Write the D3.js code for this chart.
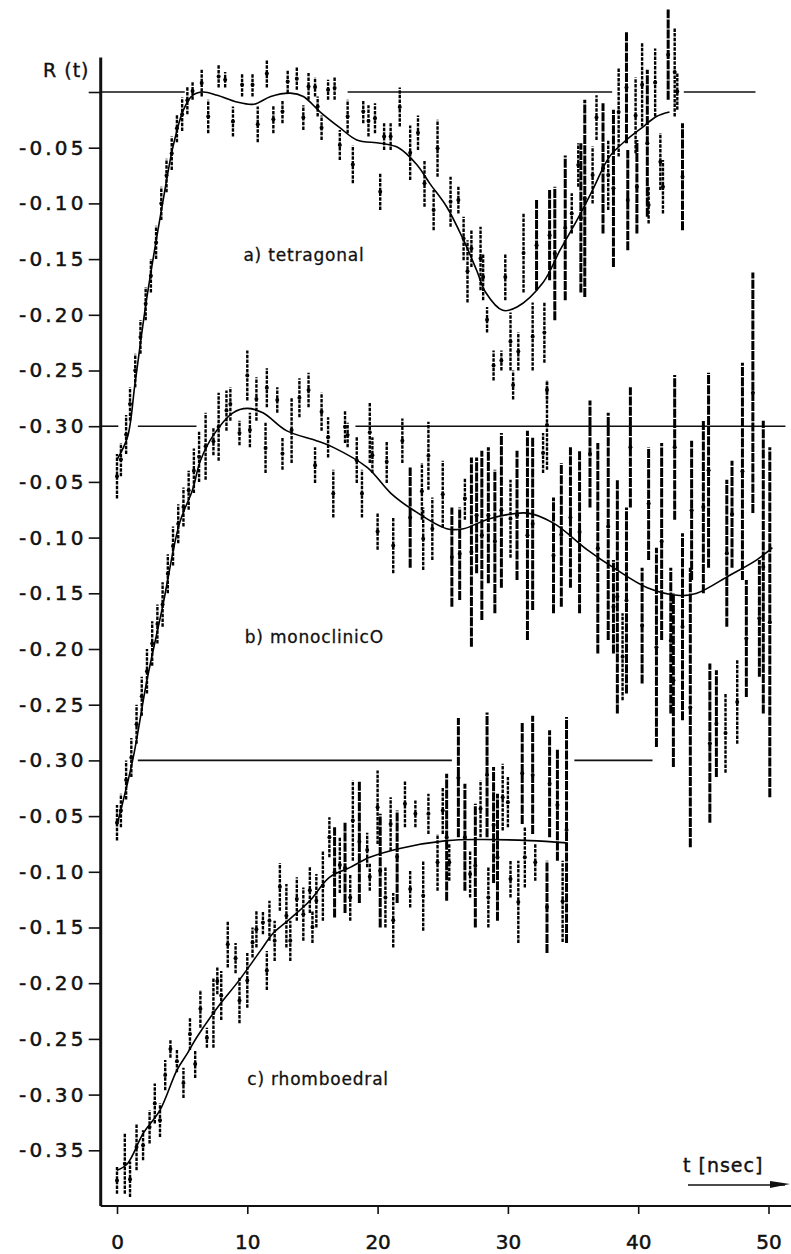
<!DOCTYPE html>
<html>
<head>
<meta charset="utf-8">
<script src="https://cdnjs.cloudflare.com/ajax/libs/d3/7.8.5/d3.min.js"></script>
<style>
body{margin:0;background:#fff;}
svg{display:block;}
</style>
</head>
<body>
<div id="container"></div>
<script>
// R(t), t in nsec. each panel has its own zero, stacked 0.30 apart
var panelNames=['a) tetragonal','b) monoclinicO','c) rhomboedral'];
var panelOffsets=[0,-0.30,-0.60];
var xTicks=[0,10,20,30,40,50];
var yTickLabels=['-0.05','-0.10','-0.15','-0.20','-0.25','-0.30',
                 '-0.05','-0.10','-0.15','-0.20','-0.25','-0.30',
                 '-0.05','-0.10','-0.15','-0.20','-0.25','-0.30','-0.35'];

// [t, low, high] error bars
var tetraBars=[[0.0,-0.365,-0.325],[0.3,-0.345,-0.315],[0.7,-0.325,-0.290],[1.0,-0.295,-0.265],[1.4,-0.265,-0.235],
[1.8,-0.235,-0.205],[2.2,-0.205,-0.175],[2.6,-0.180,-0.150],[3.0,-0.150,-0.120],[3.4,-0.115,-0.085],[3.8,-0.090,-0.060],
[4.2,-0.070,-0.040],[4.6,-0.045,-0.020],[5.0,-0.035,-0.005],[5.4,-0.020,0.005],[5.8,-0.007,0.009],[6.5,-0.004,0.020],
[7.0,-0.037,-0.007],[7.8,0.004,0.024],[8.3,0.004,0.018],[8.9,-0.040,-0.013],[9.6,-0.004,0.017],[10.4,-0.004,0.017],
[10.8,-0.045,-0.013],[11.5,0.004,0.029],[12.0,-0.037,-0.012],[12.7,-0.028,-0.007],[13.1,-0.001,0.020],[13.8,0.002,0.022],
[14.3,-0.034,-0.012],[14.7,-0.007,0.017],[15.2,-0.004,0.013],[15.4,-0.022,-0.004],[15.7,-0.043,-0.021],[16.2,-0.007,0.011],
[16.7,-0.007,0.014],[17.1,-0.061,-0.034],[17.7,-0.037,-0.007],[18.1,-0.082,-0.048],[18.9,-0.028,-0.007],[19.3,-0.040,-0.012],
[19.8,-0.037,-0.010],[20.2,-0.106,-0.073],[20.5,-0.052,-0.028],[21.0,-0.052,-0.028],[21.7,-0.031,0.004],[22.5,-0.079,-0.030],
[23.1,-0.052,-0.021],[23.6,-0.103,-0.061],[24.3,-0.124,-0.088],[24.6,-0.076,-0.025],[25.6,-0.121,-0.076],[26.2,-0.109,-0.085],
[26.6,-0.151,-0.112],[26.9,-0.189,-0.133],[27.2,-0.157,-0.124],[27.9,-0.178,-0.121],[28.1,-0.187,-0.145],[28.4,-0.216,-0.193],
[28.9,-0.259,-0.232],[29.5,-0.250,-0.232],[29.8,-0.187,-0.145],[30.2,-0.250,-0.198],[30.4,-0.276,-0.250],[30.8,-0.250,-0.216],
[31.2,-0.180,-0.109],[31.9,-0.250,-0.189],[32.2,-0.178,-0.097],[32.8,-0.243,-0.189],[33.0,-0.276,-0.259],[33.2,-0.169,-0.088],
[33.6,-0.205,-0.085],[34.4,-0.187,-0.057],[34.9,-0.127,-0.091],[35.4,-0.085,-0.046],[35.6,-0.180,-0.046],[35.9,-0.184,-0.007],
[36.5,-0.100,-0.049],[36.8,-0.043,-0.003],[37.3,-0.127,-0.010],[37.7,-0.106,-0.043],[38.1,-0.157,-0.016],[38.5,-0.058,0.022],
[39.1,-0.046,0.054],[39.2,-0.142,-0.052],[39.8,-0.055,0.013],[39.9,-0.127,-0.043],[40.3,-0.031,0.044],[40.7,-0.112,0.020],
[40.8,-0.118,-0.085],[41.3,-0.022,0.039],[41.7,-0.088,-0.037],[41.9,-0.109,-0.061],[42.3,-0.007,0.074],[42.8,-0.022,0.058],
[43.0,-0.016,0.017],[43.4,-0.124,-0.028]];
var tetraFit=[[0,-0.33],[0.8,-0.31],[1.4,-0.26],[2.3,-0.184],[3.5,-0.10],[4.3,-0.049],[5.1,-0.016],[5.8,-0.003],[6.6,0],
[7.7,-0.003],[9.2,-0.009],[10.5,-0.011],[11.8,-0.004],[13.3,-0.001],[14.3,-0.004],[15.6,-0.018],[17.1,-0.032],[18.4,-0.043],
[20.2,-0.046],[21.6,-0.050],[23.0,-0.065],[24.0,-0.082],[25.3,-0.103],[26.6,-0.133],[27.6,-0.160],[28.3,-0.180],[29.6,-0.196],[30.7,-0.193],
[32.7,-0.171],[34.0,-0.142],[35.3,-0.115],[36.5,-0.088],[37.8,-0.058],[39.1,-0.043],[40.4,-0.031],[41.4,-0.022],[42.4,-0.018]];

var monoBars=[[0.0,-0.372,-0.340],[0.3,-0.360,-0.330],[0.7,-0.335,-0.300],[1.1,-0.315,-0.280],[1.5,-0.285,-0.250],
[1.9,-0.260,-0.225],[2.3,-0.240,-0.200],[2.7,-0.215,-0.175],[3.1,-0.195,-0.160],[3.5,-0.180,-0.140],[3.9,-0.150,-0.115],
[4.3,-0.125,-0.090],[4.7,-0.105,-0.070],[5.1,-0.090,-0.055],[5.5,-0.075,-0.040],[5.9,-0.060,-0.020],[6.3,-0.050,-0.005],
[6.8,-0.048,0.012],[7.4,-0.026,-0.001],[7.8,-0.031,0.030],[8.4,-0.004,0.032],[8.7,0.005,0.035],[9.4,-0.017,0.005],
[10.0,0.023,0.068],[10.2,-0.019,0.012],[10.7,0.005,0.044],[11.4,-0.042,0.003],[11.5,0.017,0.052],[12.3,0.012,0.035],
[12.7,-0.039,-0.010],[13.4,-0.033,0.026],[14.0,0.008,0.043],[14.7,0.017,0.048],[15.2,-0.051,-0.019],[15.7,-0.004,0.030],
[16.2,-0.028,0.008],[16.6,-0.082,-0.039],[17.5,-0.015,0.014],[17.7,-0.019,0.003],[18.4,-0.051,-0.010],[18.8,-0.082,-0.039],
[19.4,-0.033,0.022],[19.6,-0.042,-0.010],[20.0,-0.111,-0.078],[20.7,-0.051,-0.013],[21.2,-0.132,-0.082],[21.9,-0.033,0.007],
[22.5,-0.127,-0.037],[23.4,-0.084,-0.033],[23.5,-0.129,-0.073],[23.9,-0.057,0.004],[24.2,-0.120,-0.064],[25.0,-0.091,-0.031],
[25.7,-0.162,-0.073],[26.3,-0.156,-0.073],[26.7,-0.084,-0.046],[27.2,-0.198,-0.028],[27.6,-0.132,-0.028],[28.0,-0.174,-0.022],
[28.5,-0.141,-0.019],[29.0,-0.168,-0.039],[29.5,-0.145,-0.006],[30.2,-0.118,-0.048],[30.7,-0.138,-0.022],[31.5,-0.192,-0.004],
[31.9,-0.165,-0.010],[32.7,-0.042,-0.006],[33.0,-0.039,0.041],[33.5,-0.168,-0.064],[34.1,-0.162,-0.033],[34.8,-0.145,-0.019],
[35.5,-0.168,-0.022],[36.3,-0.073,0.023],[36.9,-0.204,-0.015],[37.7,-0.192,0.012],[38.1,-0.204,-0.120],[38.4,-0.258,-0.048],
[38.8,-0.246,-0.168],[39.1,-0.240,-0.073],[39.4,-0.073,0.035],[40.3,-0.231,-0.127],[40.8,-0.120,-0.019],[41.4,-0.288,-0.109],
[41.8,-0.192,-0.015],[42.5,-0.258,-0.127],[42.7,-0.306,-0.150],[42.8,-0.084,0.046],[43.4,-0.264,-0.096],[44.0,-0.378,-0.127],
[44.1,-0.138,-0.013],[45.0,-0.150,0.005],[45.4,-0.127,0.048],[45.5,-0.356,-0.213],[46.0,-0.315,-0.219],[46.7,-0.311,-0.240],
[46.8,-0.180,-0.048],[47.2,-0.127,-0.031],[47.6,-0.285,-0.210],[48.0,-0.138,0.057],[48.3,-0.243,-0.138],[48.8,-0.078,0.138],
[49.3,-0.225,-0.120],[49.6,-0.258,0.005],[50.1,-0.333,-0.019]];
var monoFit=[[0,-0.358],[1.2,-0.30],[2.3,-0.228],[3.5,-0.162],[4.8,-0.087],[5.8,-0.057],[6.4,-0.031],[7.4,-0.008],[8.9,0.012],
[10.0,0.016],[11.2,0.012],[13.0,-0.004],[15.3,-0.013],[16.6,-0.019],[19.2,-0.037],[21.0,-0.060],[22.7,-0.075],[25.3,-0.092],
[26.6,-0.092],[28.6,-0.083],[31.5,-0.078],[33.5,-0.087],[36.1,-0.111],[38.1,-0.127],[40.7,-0.145],[43.2,-0.152],[44.5,-0.150],
[47.0,-0.134],[49.1,-0.120],[50.3,-0.109]];

var rhomboBars=[[0.0,-0.389,-0.365],[0.6,-0.389,-0.335],[1.0,-0.392,-0.360],[1.5,-0.368,-0.326],[2.0,-0.359,-0.332],
[2.5,-0.344,-0.314],[2.9,-0.326,-0.290],[3.3,-0.338,-0.308],[3.7,-0.296,-0.269],[4.1,-0.267,-0.251],[4.6,-0.280,-0.260],
[5.1,-0.303,-0.276],[5.6,-0.260,-0.231],[6.0,-0.285,-0.260],[6.4,-0.240,-0.206],[6.9,-0.258,-0.240],[7.4,-0.258,-0.195],
[7.7,-0.210,-0.186],[8.0,-0.233,-0.189],[8.5,-0.186,-0.144],[9.1,-0.191,-0.164],[9.4,-0.236,-0.195],[10.0,-0.222,-0.173],
[10.4,-0.177,-0.150],[10.7,-0.168,-0.135],[11.2,-0.156,-0.135],[11.5,-0.206,-0.171],[11.7,-0.162,-0.126],[12.1,-0.180,-0.144],
[12.5,-0.135,-0.092],[13.0,-0.168,-0.111],[13.3,-0.180,-0.144],[13.8,-0.144,-0.105],[14.3,-0.162,-0.114],[14.8,-0.137,-0.096],
[15.0,-0.164,-0.135],[15.3,-0.150,-0.102],[15.8,-0.144,-0.081],[16.3,-0.087,-0.051],[16.7,-0.141,-0.060],[17.1,-0.119,-0.069],
[17.5,-0.137,-0.056],[17.9,-0.144,-0.102],[18.1,-0.090,-0.018],[18.6,-0.128,-0.018],[19.2,-0.096,-0.065],[19.4,-0.117,-0.092],
[20.0,-0.075,-0.009],[20.2,-0.150,-0.048],[20.6,-0.150,-0.096],[21.0,-0.081,-0.033],[21.2,-0.168,-0.119],[21.5,-0.128,-0.045],
[22.1,-0.060,-0.018],[22.5,-0.132,-0.099],[22.9,-0.060,-0.036],[23.5,-0.153,-0.090],[23.9,-0.066,-0.030],[24.6,-0.117,-0.066],
[25.0,-0.066,-0.024],[25.3,-0.126,-0.012],[25.5,-0.108,-0.075],[26.2,-0.069,0.038],[26.7,-0.117,-0.021],[27.1,-0.123,-0.081],
[27.5,-0.150,-0.039],[27.9,-0.069,-0.018],[28.4,-0.069,0.043],[28.5,-0.150,-0.096],[28.9,-0.110,-0.006],[29.2,-0.144,-0.030],
[29.6,-0.063,-0.003],[30.0,-0.060,-0.015],[30.2,-0.123,-0.090],[30.8,-0.164,-0.090],[31.1,-0.057,0.034],[31.3,-0.114,-0.060],
[31.9,-0.066,0.040],[32.1,-0.108,-0.075],[33.0,-0.173,-0.090],[33.2,-0.069,0.027],[33.8,-0.090,0.010],[34.2,-0.163,-0.090],
[34.5,-0.164,0.039]];
var rhomboFit=[[0,-0.368],[0.8,-0.362],[2.0,-0.335],[3.3,-0.314],[4.6,-0.278],[5.4,-0.263],[6.1,-0.249],[7.7,-0.222],
[9.4,-0.197],[11.0,-0.171],[12.0,-0.155],[13.3,-0.142],[14.8,-0.126],[16.3,-0.105],[17.9,-0.096],[19.4,-0.087],[21.7,-0.079],
[25.3,-0.072],[27.9,-0.071],[31.7,-0.072],[34.5,-0.074]];

// visible pieces of each zero line (t ranges), the rest is hidden by the data
var zeroSegs=[[[-1.25,5.2],[17.7,38.0],[43.5,49.0]],
              [[-1.25,0.1],[1.6,6.1],[18.3,51.3]],
              [[1.6,25.7],[35.1,41.1]]];

var width=791, height=1254;
var svg=d3.select('#container').append('svg')
  .attr('width',width).attr('height',height)
  .style('background-color','white');

var x=d3.scaleLinear().domain([0,50]).range([117,768.5]);
var y=d3.scaleLinear().domain([0,-1]).range([92,1206]);
var axisT=-1.25;
var font="'DejaVu Sans',sans-serif";

var panels=[{bars:tetraBars,fit:tetraFit},{bars:monoBars,fit:monoFit},{bars:rhomboBars,fit:rhomboFit}];

// zero lines
panels.forEach(function(p,i){
  svg.append('g').selectAll('line').data(zeroSegs[i]).enter().append('line')
    .attr('x1',d=>x(d[0])).attr('x2',d=>x(d[1]))
    .attr('y1',y(panelOffsets[i])).attr('y2',y(panelOffsets[i]))
    .attr('stroke','#111').attr('stroke-width',1.6);
});

// error bars, long ones come out heavier on the scan
panels.forEach(function(p,i){
  var off=panelOffsets[i];
  var g=svg.append('g').attr('class','bars');
  g.selectAll('line').data(p.bars).enter().append('line')
    .attr('x1',d=>x(d[0])).attr('x2',d=>x(d[0]))
    .attr('y1',d=>y(d[1]+off)).attr('y2',d=>y(d[2]+off))
    .attr('stroke','#000')
    .attr('stroke-width',d=>(d[2]-d[1])>0.08?3:2.4)
    .attr('stroke-dasharray',d=>(d[2]-d[1])>0.08?'9 1.2':'3.5 1.2');
  g.selectAll('circle').data(p.bars).enter().append('circle')
    .attr('cx',d=>x(d[0])).attr('cy',d=>y((d[1]+d[2])/2+off))
    .attr('r',2).attr('fill','#000');
});

// fitted curves
var line=d3.line().curve(d3.curveCatmullRom.alpha(0.5));
panels.forEach(function(p,i){
  var off=panelOffsets[i];
  svg.append('path')
    .attr('d',line(p.fit.map(d=>[x(d[0]),y(d[1]+off)])))
    .attr('fill','none').attr('stroke','#000').attr('stroke-width',1.6);
});

// y axis
var yTickVals=[0].concat(yTickLabels.map((d,i)=>-0.05*(i+1)));
var y_axis=d3.axisLeft(y).tickValues(yTickVals)
  .tickFormat((d,i)=>i===0?'':yTickLabels[i-1])
  .tickSize(12).tickPadding(5);
var ya=svg.append('g').attr('transform','translate('+x(axisT)+',0)').call(y_axis);
ya.select('.domain').remove();
ya.selectAll('.tick line').attr('stroke','#111').attr('stroke-width',1.6);
ya.selectAll('.tick text').attr('font-family',font).attr('font-size',20)
  .attr('letter-spacing',3.2).attr('dx',3).attr('fill','#111')
  .attr('stroke','#111').attr('stroke-width',0.5);
svg.append('line')
  .attr('x1',x(axisT)).attr('x2',x(axisT))
  .attr('y1',y(0.031)).attr('y2',y(-1.0))
  .attr('stroke','#111').attr('stroke-width',3);

// x axis
var x_axis=d3.axisBottom(x).tickValues(xTicks).tickSize(8).tickPadding(21);
var xa=svg.append('g').attr('transform','translate(0,'+y(-1.0)+')').call(x_axis);
xa.select('.domain').remove();
xa.selectAll('.tick line').attr('stroke','#111').attr('stroke-width',1.6);
xa.selectAll('.tick text').attr('font-family',font).attr('font-size',20).attr('fill','#111')
  .attr('stroke','#111').attr('stroke-width',0.5);
svg.append('line')
  .attr('x1',x(axisT)).attr('x2',width)
  .attr('y1',y(-1.0)).attr('y2',y(-1.0))
  .attr('stroke','#111').attr('stroke-width',2);

// labels
svg.append('text').text('R (t)')
  .attr('x',43).attr('y',77)
  .attr('font-family',font).attr('font-size',19).attr('letter-spacing',1).attr('fill','#111')
  .attr('stroke','#111').attr('stroke-width',0.4);

var labelAt=[[9.7,-0.152],[9.8,-0.495],[10.0,-0.891]];
svg.selectAll('.plabel').data(panelNames).enter().append('text')
  .attr('class','plabel').text(d=>d)
  .attr('x',(d,i)=>x(labelAt[i][0])).attr('y',(d,i)=>y(labelAt[i][1]))
  .attr('font-family',font).attr('font-size',17).attr('letter-spacing',0.8).attr('fill','#111')
  .attr('stroke','#111').attr('stroke-width',0.3);

svg.append('text').text('t [nsec]')
  .attr('x',683).attr('y',1172)
  .attr('font-family',font).attr('font-size',19).attr('letter-spacing',1).attr('fill','#111')
  .attr('stroke','#111').attr('stroke-width',0.4);
svg.append('line').attr('x1',688).attr('x2',785).attr('y1',1185).attr('y2',1185)
  .attr('stroke','#111').attr('stroke-width',1.5);
svg.append('path').attr('d','M770,1181 L790,1184 L770,1188 Z').attr('fill','#111');
</script>
</body>
</html>
